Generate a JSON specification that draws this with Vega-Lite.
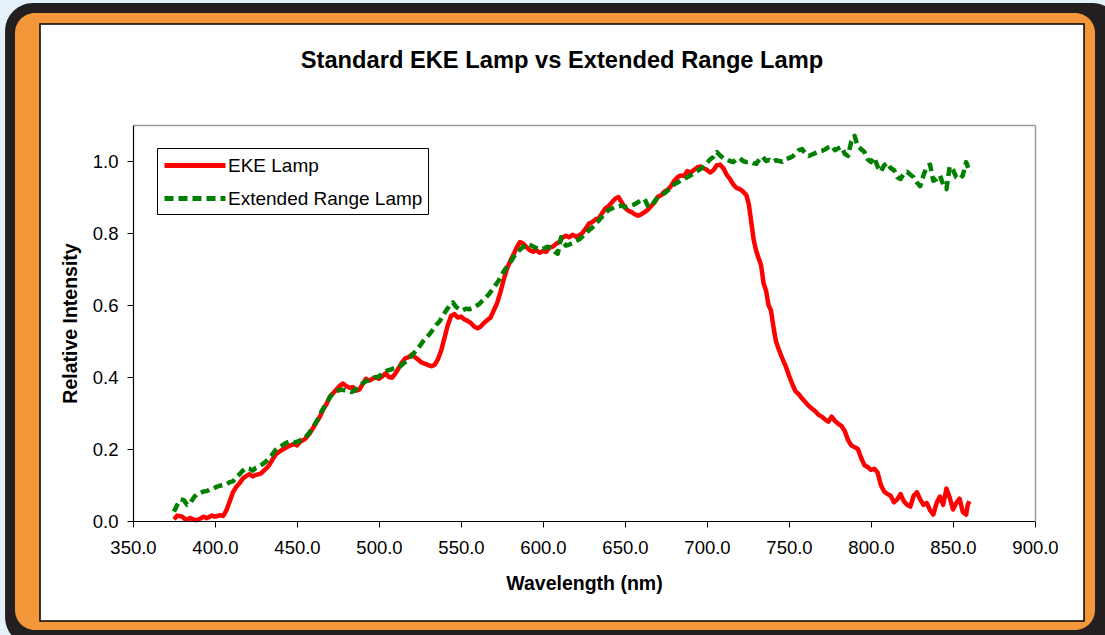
{
"$schema": "https://vega.github.io/schema/vega-lite/v6.json",
"width": 902, "height": 396,
"autosize": {"type": "none"},
"padding": {"left": 133, "top": 125, "right": 70, "bottom": 114},
"background": "#e4f1fb",
"config": {"font": "Liberation Sans", "view": {"stroke": null}},
"title": {"text": "Standard EKE Lamp vs Extended Range Lamp", "fontSize": 23.7, "fontWeight": "bold", "color": "#000000", "anchor": "middle", "frame": "group", "baseline": "alphabetic", "dx": -22, "offset": -89},
"datasets": {"spectra": [
{"lamp":"EKE Lamp","wl":375,"v":0.005},{"lamp":"EKE Lamp","wl":377,"v":0.015},{"lamp":"EKE Lamp","wl":380,"v":0.012},{"lamp":"EKE Lamp","wl":382,"v":0.004},{"lamp":"EKE Lamp","wl":385,"v":0.008},{"lamp":"EKE Lamp","wl":388,"v":0.002},{"lamp":"EKE Lamp","wl":390,"v":0.004},{"lamp":"EKE Lamp","wl":393,"v":0.012},{"lamp":"EKE Lamp","wl":395,"v":0.008},{"lamp":"EKE Lamp","wl":398,"v":0.015},{"lamp":"EKE Lamp","wl":400,"v":0.012},{"lamp":"EKE Lamp","wl":403,"v":0.016},{"lamp":"EKE Lamp","wl":405,"v":0.014},{"lamp":"EKE Lamp","wl":407,"v":0.03},{"lamp":"EKE Lamp","wl":409,"v":0.055},{"lamp":"EKE Lamp","wl":411,"v":0.08},{"lamp":"EKE Lamp","wl":413,"v":0.095},{"lamp":"EKE Lamp","wl":415,"v":0.105},{"lamp":"EKE Lamp","wl":417,"v":0.118},{"lamp":"EKE Lamp","wl":419,"v":0.125},{"lamp":"EKE Lamp","wl":421,"v":0.13},{"lamp":"EKE Lamp","wl":423,"v":0.124},{"lamp":"EKE Lamp","wl":425,"v":0.128},{"lamp":"EKE Lamp","wl":428,"v":0.132},{"lamp":"EKE Lamp","wl":431,"v":0.145},{"lamp":"EKE Lamp","wl":433,"v":0.155},{"lamp":"EKE Lamp","wl":435,"v":0.17},{"lamp":"EKE Lamp","wl":437,"v":0.185},{"lamp":"EKE Lamp","wl":440,"v":0.195},{"lamp":"EKE Lamp","wl":442,"v":0.2},{"lamp":"EKE Lamp","wl":445,"v":0.208},{"lamp":"EKE Lamp","wl":448,"v":0.214},{"lamp":"EKE Lamp","wl":450,"v":0.21},{"lamp":"EKE Lamp","wl":452,"v":0.22},{"lamp":"EKE Lamp","wl":455,"v":0.228},{"lamp":"EKE Lamp","wl":458,"v":0.245},{"lamp":"EKE Lamp","wl":460,"v":0.26},{"lamp":"EKE Lamp","wl":462,"v":0.275},{"lamp":"EKE Lamp","wl":464,"v":0.29},{"lamp":"EKE Lamp","wl":466,"v":0.31},{"lamp":"EKE Lamp","wl":468,"v":0.325},{"lamp":"EKE Lamp","wl":470,"v":0.345},{"lamp":"EKE Lamp","wl":472,"v":0.355},{"lamp":"EKE Lamp","wl":474,"v":0.365},{"lamp":"EKE Lamp","wl":476,"v":0.375},{"lamp":"EKE Lamp","wl":478,"v":0.382},{"lamp":"EKE Lamp","wl":480,"v":0.375},{"lamp":"EKE Lamp","wl":482,"v":0.37},{"lamp":"EKE Lamp","wl":484,"v":0.372},{"lamp":"EKE Lamp","wl":486,"v":0.362},{"lamp":"EKE Lamp","wl":488,"v":0.365},{"lamp":"EKE Lamp","wl":490,"v":0.38},{"lamp":"EKE Lamp","wl":492,"v":0.395},{"lamp":"EKE Lamp","wl":494,"v":0.39},{"lamp":"EKE Lamp","wl":496,"v":0.395},{"lamp":"EKE Lamp","wl":498,"v":0.4},{"lamp":"EKE Lamp","wl":500,"v":0.395},{"lamp":"EKE Lamp","wl":502,"v":0.402},{"lamp":"EKE Lamp","wl":504,"v":0.41},{"lamp":"EKE Lamp","wl":506,"v":0.4},{"lamp":"EKE Lamp","wl":508,"v":0.398},{"lamp":"EKE Lamp","wl":510,"v":0.41},{"lamp":"EKE Lamp","wl":512,"v":0.425},{"lamp":"EKE Lamp","wl":514,"v":0.44},{"lamp":"EKE Lamp","wl":516,"v":0.452},{"lamp":"EKE Lamp","wl":518,"v":0.455},{"lamp":"EKE Lamp","wl":520,"v":0.462},{"lamp":"EKE Lamp","wl":522,"v":0.455},{"lamp":"EKE Lamp","wl":524,"v":0.448},{"lamp":"EKE Lamp","wl":526,"v":0.44},{"lamp":"EKE Lamp","wl":528,"v":0.437},{"lamp":"EKE Lamp","wl":530,"v":0.433},{"lamp":"EKE Lamp","wl":532,"v":0.43},{"lamp":"EKE Lamp","wl":534,"v":0.434},{"lamp":"EKE Lamp","wl":536,"v":0.45},{"lamp":"EKE Lamp","wl":538,"v":0.475},{"lamp":"EKE Lamp","wl":540,"v":0.51},{"lamp":"EKE Lamp","wl":542,"v":0.545},{"lamp":"EKE Lamp","wl":544,"v":0.57},{"lamp":"EKE Lamp","wl":546,"v":0.575},{"lamp":"EKE Lamp","wl":548,"v":0.565},{"lamp":"EKE Lamp","wl":550,"v":0.568},{"lamp":"EKE Lamp","wl":552,"v":0.56},{"lamp":"EKE Lamp","wl":554,"v":0.556},{"lamp":"EKE Lamp","wl":556,"v":0.55},{"lamp":"EKE Lamp","wl":558,"v":0.54},{"lamp":"EKE Lamp","wl":560,"v":0.535},{"lamp":"EKE Lamp","wl":562,"v":0.54},{"lamp":"EKE Lamp","wl":564,"v":0.55},{"lamp":"EKE Lamp","wl":566,"v":0.558},{"lamp":"EKE Lamp","wl":568,"v":0.565},{"lamp":"EKE Lamp","wl":570,"v":0.585},{"lamp":"EKE Lamp","wl":572,"v":0.605},{"lamp":"EKE Lamp","wl":574,"v":0.635},{"lamp":"EKE Lamp","wl":576,"v":0.67},{"lamp":"EKE Lamp","wl":578,"v":0.7},{"lamp":"EKE Lamp","wl":580,"v":0.722},{"lamp":"EKE Lamp","wl":582,"v":0.74},{"lamp":"EKE Lamp","wl":584,"v":0.76},{"lamp":"EKE Lamp","wl":586,"v":0.775},{"lamp":"EKE Lamp","wl":588,"v":0.77},{"lamp":"EKE Lamp","wl":590,"v":0.76},{"lamp":"EKE Lamp","wl":592,"v":0.752},{"lamp":"EKE Lamp","wl":594,"v":0.748},{"lamp":"EKE Lamp","wl":596,"v":0.752},{"lamp":"EKE Lamp","wl":598,"v":0.745},{"lamp":"EKE Lamp","wl":600,"v":0.75},{"lamp":"EKE Lamp","wl":602,"v":0.748},{"lamp":"EKE Lamp","wl":604,"v":0.76},{"lamp":"EKE Lamp","wl":606,"v":0.762},{"lamp":"EKE Lamp","wl":608,"v":0.77},{"lamp":"EKE Lamp","wl":610,"v":0.775},{"lamp":"EKE Lamp","wl":612,"v":0.788},{"lamp":"EKE Lamp","wl":614,"v":0.792},{"lamp":"EKE Lamp","wl":616,"v":0.788},{"lamp":"EKE Lamp","wl":618,"v":0.795},{"lamp":"EKE Lamp","wl":620,"v":0.79},{"lamp":"EKE Lamp","wl":622,"v":0.793},{"lamp":"EKE Lamp","wl":624,"v":0.8},{"lamp":"EKE Lamp","wl":626,"v":0.812},{"lamp":"EKE Lamp","wl":628,"v":0.826},{"lamp":"EKE Lamp","wl":630,"v":0.83},{"lamp":"EKE Lamp","wl":632,"v":0.838},{"lamp":"EKE Lamp","wl":634,"v":0.84},{"lamp":"EKE Lamp","wl":636,"v":0.855},{"lamp":"EKE Lamp","wl":638,"v":0.868},{"lamp":"EKE Lamp","wl":640,"v":0.875},{"lamp":"EKE Lamp","wl":642,"v":0.885},{"lamp":"EKE Lamp","wl":644,"v":0.895},{"lamp":"EKE Lamp","wl":646,"v":0.9},{"lamp":"EKE Lamp","wl":648,"v":0.885},{"lamp":"EKE Lamp","wl":650,"v":0.87},{"lamp":"EKE Lamp","wl":652,"v":0.862},{"lamp":"EKE Lamp","wl":654,"v":0.858},{"lamp":"EKE Lamp","wl":656,"v":0.852},{"lamp":"EKE Lamp","wl":658,"v":0.848},{"lamp":"EKE Lamp","wl":660,"v":0.852},{"lamp":"EKE Lamp","wl":662,"v":0.858},{"lamp":"EKE Lamp","wl":664,"v":0.865},{"lamp":"EKE Lamp","wl":666,"v":0.875},{"lamp":"EKE Lamp","wl":668,"v":0.885},{"lamp":"EKE Lamp","wl":670,"v":0.9},{"lamp":"EKE Lamp","wl":672,"v":0.905},{"lamp":"EKE Lamp","wl":674,"v":0.915},{"lamp":"EKE Lamp","wl":676,"v":0.92},{"lamp":"EKE Lamp","wl":678,"v":0.93},{"lamp":"EKE Lamp","wl":680,"v":0.945},{"lamp":"EKE Lamp","wl":682,"v":0.955},{"lamp":"EKE Lamp","wl":684,"v":0.96},{"lamp":"EKE Lamp","wl":686,"v":0.958},{"lamp":"EKE Lamp","wl":688,"v":0.972},{"lamp":"EKE Lamp","wl":690,"v":0.968},{"lamp":"EKE Lamp","wl":692,"v":0.975},{"lamp":"EKE Lamp","wl":694,"v":0.982},{"lamp":"EKE Lamp","wl":696,"v":0.985},{"lamp":"EKE Lamp","wl":698,"v":0.98},{"lamp":"EKE Lamp","wl":700,"v":0.975},{"lamp":"EKE Lamp","wl":702,"v":0.968},{"lamp":"EKE Lamp","wl":704,"v":0.975},{"lamp":"EKE Lamp","wl":706,"v":0.988},{"lamp":"EKE Lamp","wl":708,"v":0.99},{"lamp":"EKE Lamp","wl":710,"v":0.98},{"lamp":"EKE Lamp","wl":712,"v":0.962},{"lamp":"EKE Lamp","wl":714,"v":0.95},{"lamp":"EKE Lamp","wl":716,"v":0.935},{"lamp":"EKE Lamp","wl":718,"v":0.925},{"lamp":"EKE Lamp","wl":720,"v":0.922},{"lamp":"EKE Lamp","wl":722,"v":0.915},{"lamp":"EKE Lamp","wl":724,"v":0.905},{"lamp":"EKE Lamp","wl":725.5,"v":0.88},{"lamp":"EKE Lamp","wl":727,"v":0.83},{"lamp":"EKE Lamp","wl":728.5,"v":0.78},{"lamp":"EKE Lamp","wl":730,"v":0.75},{"lamp":"EKE Lamp","wl":731.5,"v":0.73},{"lamp":"EKE Lamp","wl":733,"v":0.71},{"lamp":"EKE Lamp","wl":734.5,"v":0.66},{"lamp":"EKE Lamp","wl":736,"v":0.64},{"lamp":"EKE Lamp","wl":737.5,"v":0.6},{"lamp":"EKE Lamp","wl":739,"v":0.585},{"lamp":"EKE Lamp","wl":740.5,"v":0.54},{"lamp":"EKE Lamp","wl":742,"v":0.5},{"lamp":"EKE Lamp","wl":743.5,"v":0.48},{"lamp":"EKE Lamp","wl":745,"v":0.462},{"lamp":"EKE Lamp","wl":746.5,"v":0.445},{"lamp":"EKE Lamp","wl":748,"v":0.43},{"lamp":"EKE Lamp","wl":749.5,"v":0.41},{"lamp":"EKE Lamp","wl":751,"v":0.392},{"lamp":"EKE Lamp","wl":752.5,"v":0.375},{"lamp":"EKE Lamp","wl":754,"v":0.36},{"lamp":"EKE Lamp","wl":756,"v":0.352},{"lamp":"EKE Lamp","wl":758,"v":0.34},{"lamp":"EKE Lamp","wl":760,"v":0.33},{"lamp":"EKE Lamp","wl":762,"v":0.32},{"lamp":"EKE Lamp","wl":764,"v":0.312},{"lamp":"EKE Lamp","wl":766,"v":0.305},{"lamp":"EKE Lamp","wl":768,"v":0.295},{"lamp":"EKE Lamp","wl":770,"v":0.29},{"lamp":"EKE Lamp","wl":772,"v":0.282},{"lamp":"EKE Lamp","wl":774,"v":0.276},{"lamp":"EKE Lamp","wl":776,"v":0.29},{"lamp":"EKE Lamp","wl":778,"v":0.278},{"lamp":"EKE Lamp","wl":780,"v":0.27},{"lamp":"EKE Lamp","wl":782,"v":0.264},{"lamp":"EKE Lamp","wl":784,"v":0.25},{"lamp":"EKE Lamp","wl":786,"v":0.225},{"lamp":"EKE Lamp","wl":788,"v":0.21},{"lamp":"EKE Lamp","wl":790,"v":0.205},{"lamp":"EKE Lamp","wl":792,"v":0.2},{"lamp":"EKE Lamp","wl":794,"v":0.175},{"lamp":"EKE Lamp","wl":796,"v":0.155},{"lamp":"EKE Lamp","wl":798,"v":0.15},{"lamp":"EKE Lamp","wl":800,"v":0.142},{"lamp":"EKE Lamp","wl":802,"v":0.145},{"lamp":"EKE Lamp","wl":804,"v":0.135},{"lamp":"EKE Lamp","wl":806,"v":0.1},{"lamp":"EKE Lamp","wl":808,"v":0.082},{"lamp":"EKE Lamp","wl":810,"v":0.075},{"lamp":"EKE Lamp","wl":812,"v":0.07},{"lamp":"EKE Lamp","wl":814,"v":0.052},{"lamp":"EKE Lamp","wl":816,"v":0.06},{"lamp":"EKE Lamp","wl":818,"v":0.075},{"lamp":"EKE Lamp","wl":820,"v":0.055},{"lamp":"EKE Lamp","wl":822,"v":0.045},{"lamp":"EKE Lamp","wl":824,"v":0.04},{"lamp":"EKE Lamp","wl":826,"v":0.07},{"lamp":"EKE Lamp","wl":828,"v":0.08},{"lamp":"EKE Lamp","wl":830,"v":0.06},{"lamp":"EKE Lamp","wl":832,"v":0.045},{"lamp":"EKE Lamp","wl":834,"v":0.05},{"lamp":"EKE Lamp","wl":836,"v":0.03},{"lamp":"EKE Lamp","wl":838,"v":0.018},{"lamp":"EKE Lamp","wl":840,"v":0.05},{"lamp":"EKE Lamp","wl":842,"v":0.068},{"lamp":"EKE Lamp","wl":844,"v":0.045},{"lamp":"EKE Lamp","wl":846,"v":0.09},{"lamp":"EKE Lamp","wl":848,"v":0.065},{"lamp":"EKE Lamp","wl":850,"v":0.032},{"lamp":"EKE Lamp","wl":852,"v":0.05},{"lamp":"EKE Lamp","wl":854,"v":0.062},{"lamp":"EKE Lamp","wl":856,"v":0.025},{"lamp":"EKE Lamp","wl":858,"v":0.018},{"lamp":"EKE Lamp","wl":859,"v":0.045},{"lamp":"EKE Lamp","wl":860,"v":0.055},
{"lamp":"Extended Range Lamp","wl":375,"v":0.026},{"lamp":"Extended Range Lamp","wl":377,"v":0.045},{"lamp":"Extended Range Lamp","wl":379,"v":0.06},{"lamp":"Extended Range Lamp","wl":381,"v":0.058},{"lamp":"Extended Range Lamp","wl":383,"v":0.045},{"lamp":"Extended Range Lamp","wl":385,"v":0.05},{"lamp":"Extended Range Lamp","wl":387,"v":0.065},{"lamp":"Extended Range Lamp","wl":389,"v":0.075},{"lamp":"Extended Range Lamp","wl":391,"v":0.078},{"lamp":"Extended Range Lamp","wl":393,"v":0.082},{"lamp":"Extended Range Lamp","wl":395,"v":0.083},{"lamp":"Extended Range Lamp","wl":397,"v":0.088},{"lamp":"Extended Range Lamp","wl":399,"v":0.09},{"lamp":"Extended Range Lamp","wl":401,"v":0.095},{"lamp":"Extended Range Lamp","wl":403,"v":0.098},{"lamp":"Extended Range Lamp","wl":405,"v":0.1},{"lamp":"Extended Range Lamp","wl":407,"v":0.102},{"lamp":"Extended Range Lamp","wl":409,"v":0.108},{"lamp":"Extended Range Lamp","wl":411,"v":0.11},{"lamp":"Extended Range Lamp","wl":413,"v":0.122},{"lamp":"Extended Range Lamp","wl":415,"v":0.13},{"lamp":"Extended Range Lamp","wl":417,"v":0.14},{"lamp":"Extended Range Lamp","wl":419,"v":0.147},{"lamp":"Extended Range Lamp","wl":421,"v":0.145},{"lamp":"Extended Range Lamp","wl":423,"v":0.14},{"lamp":"Extended Range Lamp","wl":425,"v":0.148},{"lamp":"Extended Range Lamp","wl":427,"v":0.152},{"lamp":"Extended Range Lamp","wl":429,"v":0.158},{"lamp":"Extended Range Lamp","wl":431,"v":0.165},{"lamp":"Extended Range Lamp","wl":433,"v":0.175},{"lamp":"Extended Range Lamp","wl":435,"v":0.185},{"lamp":"Extended Range Lamp","wl":437,"v":0.198},{"lamp":"Extended Range Lamp","wl":439,"v":0.205},{"lamp":"Extended Range Lamp","wl":441,"v":0.21},{"lamp":"Extended Range Lamp","wl":443,"v":0.216},{"lamp":"Extended Range Lamp","wl":445,"v":0.22},{"lamp":"Extended Range Lamp","wl":447,"v":0.222},{"lamp":"Extended Range Lamp","wl":449,"v":0.218},{"lamp":"Extended Range Lamp","wl":451,"v":0.222},{"lamp":"Extended Range Lamp","wl":453,"v":0.226},{"lamp":"Extended Range Lamp","wl":455,"v":0.232},{"lamp":"Extended Range Lamp","wl":457,"v":0.242},{"lamp":"Extended Range Lamp","wl":459,"v":0.255},{"lamp":"Extended Range Lamp","wl":461,"v":0.27},{"lamp":"Extended Range Lamp","wl":463,"v":0.285},{"lamp":"Extended Range Lamp","wl":465,"v":0.305},{"lamp":"Extended Range Lamp","wl":467,"v":0.32},{"lamp":"Extended Range Lamp","wl":469,"v":0.335},{"lamp":"Extended Range Lamp","wl":471,"v":0.35},{"lamp":"Extended Range Lamp","wl":473,"v":0.358},{"lamp":"Extended Range Lamp","wl":475,"v":0.362},{"lamp":"Extended Range Lamp","wl":477,"v":0.365},{"lamp":"Extended Range Lamp","wl":479,"v":0.363},{"lamp":"Extended Range Lamp","wl":481,"v":0.36},{"lamp":"Extended Range Lamp","wl":483,"v":0.358},{"lamp":"Extended Range Lamp","wl":485,"v":0.362},{"lamp":"Extended Range Lamp","wl":487,"v":0.372},{"lamp":"Extended Range Lamp","wl":489,"v":0.38},{"lamp":"Extended Range Lamp","wl":491,"v":0.385},{"lamp":"Extended Range Lamp","wl":493,"v":0.39},{"lamp":"Extended Range Lamp","wl":495,"v":0.393},{"lamp":"Extended Range Lamp","wl":497,"v":0.398},{"lamp":"Extended Range Lamp","wl":499,"v":0.4},{"lamp":"Extended Range Lamp","wl":501,"v":0.405},{"lamp":"Extended Range Lamp","wl":503,"v":0.412},{"lamp":"Extended Range Lamp","wl":505,"v":0.418},{"lamp":"Extended Range Lamp","wl":507,"v":0.42},{"lamp":"Extended Range Lamp","wl":509,"v":0.424},{"lamp":"Extended Range Lamp","wl":511,"v":0.426},{"lamp":"Extended Range Lamp","wl":513,"v":0.43},{"lamp":"Extended Range Lamp","wl":515,"v":0.438},{"lamp":"Extended Range Lamp","wl":517,"v":0.445},{"lamp":"Extended Range Lamp","wl":519,"v":0.455},{"lamp":"Extended Range Lamp","wl":521,"v":0.465},{"lamp":"Extended Range Lamp","wl":523,"v":0.475},{"lamp":"Extended Range Lamp","wl":525,"v":0.487},{"lamp":"Extended Range Lamp","wl":527,"v":0.5},{"lamp":"Extended Range Lamp","wl":529,"v":0.51},{"lamp":"Extended Range Lamp","wl":531,"v":0.52},{"lamp":"Extended Range Lamp","wl":533,"v":0.532},{"lamp":"Extended Range Lamp","wl":535,"v":0.545},{"lamp":"Extended Range Lamp","wl":537,"v":0.555},{"lamp":"Extended Range Lamp","wl":539,"v":0.57},{"lamp":"Extended Range Lamp","wl":541,"v":0.585},{"lamp":"Extended Range Lamp","wl":543,"v":0.598},{"lamp":"Extended Range Lamp","wl":545,"v":0.607},{"lamp":"Extended Range Lamp","wl":547,"v":0.595},{"lamp":"Extended Range Lamp","wl":549,"v":0.588},{"lamp":"Extended Range Lamp","wl":551,"v":0.585},{"lamp":"Extended Range Lamp","wl":553,"v":0.59},{"lamp":"Extended Range Lamp","wl":555,"v":0.588},{"lamp":"Extended Range Lamp","wl":557,"v":0.592},{"lamp":"Extended Range Lamp","wl":559,"v":0.597},{"lamp":"Extended Range Lamp","wl":561,"v":0.602},{"lamp":"Extended Range Lamp","wl":563,"v":0.612},{"lamp":"Extended Range Lamp","wl":565,"v":0.62},{"lamp":"Extended Range Lamp","wl":567,"v":0.63},{"lamp":"Extended Range Lamp","wl":569,"v":0.642},{"lamp":"Extended Range Lamp","wl":571,"v":0.655},{"lamp":"Extended Range Lamp","wl":573,"v":0.668},{"lamp":"Extended Range Lamp","wl":575,"v":0.685},{"lamp":"Extended Range Lamp","wl":577,"v":0.7},{"lamp":"Extended Range Lamp","wl":579,"v":0.712},{"lamp":"Extended Range Lamp","wl":581,"v":0.725},{"lamp":"Extended Range Lamp","wl":583,"v":0.74},{"lamp":"Extended Range Lamp","wl":585,"v":0.75},{"lamp":"Extended Range Lamp","wl":587,"v":0.758},{"lamp":"Extended Range Lamp","wl":589,"v":0.765},{"lamp":"Extended Range Lamp","wl":591,"v":0.77},{"lamp":"Extended Range Lamp","wl":593,"v":0.765},{"lamp":"Extended Range Lamp","wl":595,"v":0.76},{"lamp":"Extended Range Lamp","wl":597,"v":0.757},{"lamp":"Extended Range Lamp","wl":599,"v":0.755},{"lamp":"Extended Range Lamp","wl":601,"v":0.758},{"lamp":"Extended Range Lamp","wl":603,"v":0.762},{"lamp":"Extended Range Lamp","wl":605,"v":0.756},{"lamp":"Extended Range Lamp","wl":607,"v":0.748},{"lamp":"Extended Range Lamp","wl":609,"v":0.742},{"lamp":"Extended Range Lamp","wl":611,"v":0.788},{"lamp":"Extended Range Lamp","wl":612.5,"v":0.772},{"lamp":"Extended Range Lamp","wl":614,"v":0.765},{"lamp":"Extended Range Lamp","wl":616,"v":0.768},{"lamp":"Extended Range Lamp","wl":618,"v":0.772},{"lamp":"Extended Range Lamp","wl":620,"v":0.778},{"lamp":"Extended Range Lamp","wl":622,"v":0.782},{"lamp":"Extended Range Lamp","wl":624,"v":0.79},{"lamp":"Extended Range Lamp","wl":626,"v":0.798},{"lamp":"Extended Range Lamp","wl":628,"v":0.808},{"lamp":"Extended Range Lamp","wl":630,"v":0.815},{"lamp":"Extended Range Lamp","wl":632,"v":0.825},{"lamp":"Extended Range Lamp","wl":634,"v":0.835},{"lamp":"Extended Range Lamp","wl":636,"v":0.845},{"lamp":"Extended Range Lamp","wl":638,"v":0.855},{"lamp":"Extended Range Lamp","wl":640,"v":0.864},{"lamp":"Extended Range Lamp","wl":642,"v":0.868},{"lamp":"Extended Range Lamp","wl":644,"v":0.872},{"lamp":"Extended Range Lamp","wl":646,"v":0.874},{"lamp":"Extended Range Lamp","wl":648,"v":0.876},{"lamp":"Extended Range Lamp","wl":650,"v":0.872},{"lamp":"Extended Range Lamp","wl":652,"v":0.875},{"lamp":"Extended Range Lamp","wl":654,"v":0.877},{"lamp":"Extended Range Lamp","wl":656,"v":0.88},{"lamp":"Extended Range Lamp","wl":658,"v":0.886},{"lamp":"Extended Range Lamp","wl":660,"v":0.892},{"lamp":"Extended Range Lamp","wl":662,"v":0.894},{"lamp":"Extended Range Lamp","wl":664,"v":0.875},{"lamp":"Extended Range Lamp","wl":666,"v":0.872},{"lamp":"Extended Range Lamp","wl":668,"v":0.888},{"lamp":"Extended Range Lamp","wl":670,"v":0.9},{"lamp":"Extended Range Lamp","wl":672,"v":0.905},{"lamp":"Extended Range Lamp","wl":674,"v":0.91},{"lamp":"Extended Range Lamp","wl":676,"v":0.918},{"lamp":"Extended Range Lamp","wl":678,"v":0.925},{"lamp":"Extended Range Lamp","wl":680,"v":0.935},{"lamp":"Extended Range Lamp","wl":682,"v":0.94},{"lamp":"Extended Range Lamp","wl":684,"v":0.946},{"lamp":"Extended Range Lamp","wl":686,"v":0.95},{"lamp":"Extended Range Lamp","wl":688,"v":0.955},{"lamp":"Extended Range Lamp","wl":690,"v":0.96},{"lamp":"Extended Range Lamp","wl":692,"v":0.965},{"lamp":"Extended Range Lamp","wl":694,"v":0.972},{"lamp":"Extended Range Lamp","wl":696,"v":0.978},{"lamp":"Extended Range Lamp","wl":698,"v":0.985},{"lamp":"Extended Range Lamp","wl":700,"v":0.995},{"lamp":"Extended Range Lamp","wl":702,"v":1.005},{"lamp":"Extended Range Lamp","wl":704,"v":1.012},{"lamp":"Extended Range Lamp","wl":706,"v":1.025},{"lamp":"Extended Range Lamp","wl":708,"v":1.015},{"lamp":"Extended Range Lamp","wl":710,"v":1.008},{"lamp":"Extended Range Lamp","wl":712,"v":1.005},{"lamp":"Extended Range Lamp","wl":714,"v":1.0},{"lamp":"Extended Range Lamp","wl":716,"v":0.997},{"lamp":"Extended Range Lamp","wl":718,"v":1.005},{"lamp":"Extended Range Lamp","wl":720,"v":1.008},{"lamp":"Extended Range Lamp","wl":722,"v":1.0},{"lamp":"Extended Range Lamp","wl":724,"v":0.997},{"lamp":"Extended Range Lamp","wl":726,"v":0.998},{"lamp":"Extended Range Lamp","wl":728,"v":0.994},{"lamp":"Extended Range Lamp","wl":730,"v":0.992},{"lamp":"Extended Range Lamp","wl":732,"v":1.005},{"lamp":"Extended Range Lamp","wl":734,"v":1.012},{"lamp":"Extended Range Lamp","wl":736,"v":1.0},{"lamp":"Extended Range Lamp","wl":738,"v":1.003},{"lamp":"Extended Range Lamp","wl":740,"v":0.997},{"lamp":"Extended Range Lamp","wl":742,"v":1.002},{"lamp":"Extended Range Lamp","wl":744,"v":1.0},{"lamp":"Extended Range Lamp","wl":746,"v":0.998},{"lamp":"Extended Range Lamp","wl":748,"v":1.005},{"lamp":"Extended Range Lamp","wl":750,"v":1.008},{"lamp":"Extended Range Lamp","wl":752,"v":1.012},{"lamp":"Extended Range Lamp","wl":754,"v":1.02},{"lamp":"Extended Range Lamp","wl":756,"v":1.03},{"lamp":"Extended Range Lamp","wl":758,"v":1.033},{"lamp":"Extended Range Lamp","wl":760,"v":1.02},{"lamp":"Extended Range Lamp","wl":762,"v":1.014},{"lamp":"Extended Range Lamp","wl":764,"v":1.018},{"lamp":"Extended Range Lamp","wl":766,"v":1.022},{"lamp":"Extended Range Lamp","wl":768,"v":1.026},{"lamp":"Extended Range Lamp","wl":770,"v":1.028},{"lamp":"Extended Range Lamp","wl":772,"v":1.032},{"lamp":"Extended Range Lamp","wl":774,"v":1.038},{"lamp":"Extended Range Lamp","wl":776,"v":1.042},{"lamp":"Extended Range Lamp","wl":778,"v":1.03},{"lamp":"Extended Range Lamp","wl":780,"v":1.035},{"lamp":"Extended Range Lamp","wl":782,"v":1.039},{"lamp":"Extended Range Lamp","wl":784,"v":1.02},{"lamp":"Extended Range Lamp","wl":786,"v":1.014},{"lamp":"Extended Range Lamp","wl":788,"v":1.055},{"lamp":"Extended Range Lamp","wl":790,"v":1.07},{"lamp":"Extended Range Lamp","wl":792,"v":1.04},{"lamp":"Extended Range Lamp","wl":794,"v":1.033},{"lamp":"Extended Range Lamp","wl":796,"v":1.025},{"lamp":"Extended Range Lamp","wl":798,"v":1.005},{"lamp":"Extended Range Lamp","wl":800,"v":0.997},{"lamp":"Extended Range Lamp","wl":802,"v":1.01},{"lamp":"Extended Range Lamp","wl":804,"v":0.985},{"lamp":"Extended Range Lamp","wl":806,"v":0.97},{"lamp":"Extended Range Lamp","wl":808,"v":0.988},{"lamp":"Extended Range Lamp","wl":810,"v":0.995},{"lamp":"Extended Range Lamp","wl":812,"v":0.98},{"lamp":"Extended Range Lamp","wl":814,"v":0.975},{"lamp":"Extended Range Lamp","wl":816,"v":0.955},{"lamp":"Extended Range Lamp","wl":818,"v":0.95},{"lamp":"Extended Range Lamp","wl":820,"v":0.965},{"lamp":"Extended Range Lamp","wl":822,"v":0.97},{"lamp":"Extended Range Lamp","wl":824,"v":0.962},{"lamp":"Extended Range Lamp","wl":826,"v":0.955},{"lamp":"Extended Range Lamp","wl":828,"v":0.94},{"lamp":"Extended Range Lamp","wl":830,"v":0.93},{"lamp":"Extended Range Lamp","wl":832,"v":0.96},{"lamp":"Extended Range Lamp","wl":834,"v":0.985},{"lamp":"Extended Range Lamp","wl":836,"v":0.99},{"lamp":"Extended Range Lamp","wl":838,"v":0.945},{"lamp":"Extended Range Lamp","wl":840,"v":0.95},{"lamp":"Extended Range Lamp","wl":842,"v":0.96},{"lamp":"Extended Range Lamp","wl":844,"v":0.935},{"lamp":"Extended Range Lamp","wl":846,"v":0.922},{"lamp":"Extended Range Lamp","wl":848,"v":0.985},{"lamp":"Extended Range Lamp","wl":850,"v":0.975},{"lamp":"Extended Range Lamp","wl":852,"v":0.955},{"lamp":"Extended Range Lamp","wl":854,"v":0.95},{"lamp":"Extended Range Lamp","wl":856,"v":0.96},{"lamp":"Extended Range Lamp","wl":858,"v":0.997},{"lamp":"Extended Range Lamp","wl":860,"v":0.972},{"lamp":"Extended Range Lamp","wl":861,"v":0.97}
]},
"layer": [
 {"data": {"values": [{}]},
  "mark": {"type": "rect", "fill": "#231f20", "cornerRadius": 28},
  "encoding": {
   "x": {"datum": 272, "type": "quantitative", "scale": {"domain": [350, 900], "nice": false, "zero": false}, "axis": null},
   "x2": {"datum": 952},
   "y": {"datum": 1.439, "type": "quantitative", "scale": {"domain": [0, 1.1], "nice": false, "zero": false}, "axis": null},
   "y2": {"datum": -0.345}}},
 {"data": {"values": [{}]},
  "mark": {"type": "rect", "fill": "#f4963a", "cornerRadius": 20},
  "encoding": {
   "x": {"datum": 278.05, "type": "quantitative", "axis": null},
   "x2": {"datum": 936.6},
   "y": {"datum": 1.411, "type": "quantitative", "axis": null},
   "y2": {"datum": -0.3028}}},
 {"data": {"values": [{}]},
  "mark": {"type": "rect", "fill": "#ffffff", "stroke": "#000000", "strokeWidth": 1.5},
  "encoding": {
   "x": {"datum": 293.3, "type": "quantitative", "axis": {"orient": "top", "labels": false, "ticks": false, "grid": false, "title": null, "domainColor": "#9a9a9a", "domainWidth": 1.5, "zindex": 1}},
   "x2": {"datum": 929.9},
   "y": {"datum": 1.3806, "type": "quantitative", "axis": {"orient": "right", "labels": false, "ticks": false, "grid": false, "title": null, "domainColor": "#9a9a9a", "domainWidth": 1.5, "zindex": 1}},
   "y2": {"datum": -0.2778}}},
 {"data": {"name": "spectra"},
  "mark": {"type": "line", "strokeWidth": 4.5, "strokeJoin": "round", "strokeCap": "butt"},
  "encoding": {
   "x": {"field": "wl", "type": "quantitative", "axis": {"orient": "bottom", "values": [350,400,450,500,550,600,650,700,750,800,850,900], "format": ".1f", "grid": false, "labelFontSize": 18.5, "labelColor": "#000000", "labelPadding": 11, "labelFlush": false, "labelOverlap": false, "tickSize": 6, "tickColor": "#000000", "domainColor": "#000000", "domainWidth": 1.2, "title": "Wavelength (nm)", "titleFontSize": 19.5, "titleFontWeight": "bold", "titleColor": "#000000", "titlePadding": 18, "zindex": 1}},
   "y": {"field": "v", "type": "quantitative", "axis": {"orient": "left", "values": [0,0.2,0.4,0.6,0.8,1.0], "format": ".1f", "grid": false, "labelFontSize": 18.5, "labelColor": "#000000", "labelPadding": 9, "labelFlush": false, "labelOverlap": false, "tickSize": 6, "tickColor": "#000000", "domainColor": "#000000", "domainWidth": 1.2, "title": "Relative Intensity", "titleFontSize": 19.5, "titleFontWeight": "bold", "titleColor": "#000000", "titlePadding": 12, "zindex": 1}},
   "color": {"field": "lamp", "type": "nominal", "scale": {"domain": ["EKE Lamp", "Extended Range Lamp"], "range": ["#ff0000", "#008000"]},
     "legend": {"orient": "none", "legendX": 24, "legendY": 23, "title": null, "fillColor": "#ffffff", "strokeColor": "#000000", "padding": 5, "symbolType": "M-1,0H5.1", "symbolSize": 400, "symbolStrokeWidth": 5, "labelFontSize": 19, "labelColor": "#000000", "labelOffset": 41, "labelLimit": 400, "rowPadding": 10}},
   "strokeDash": {"field": "lamp", "type": "nominal", "scale": {"domain": ["EKE Lamp", "Extended Range Lamp"], "range": [[1, 0], [9, 5]]},
     "legend": {"orient": "none", "legendX": 24, "legendY": 23, "title": null, "fillColor": "#ffffff", "strokeColor": "#000000", "padding": 5, "symbolType": "M-1,0H5.1", "symbolSize": 400, "symbolStrokeWidth": 5, "labelFontSize": 19, "labelColor": "#000000", "labelOffset": 41, "labelLimit": 400, "rowPadding": 10}}
  }}
]
}
